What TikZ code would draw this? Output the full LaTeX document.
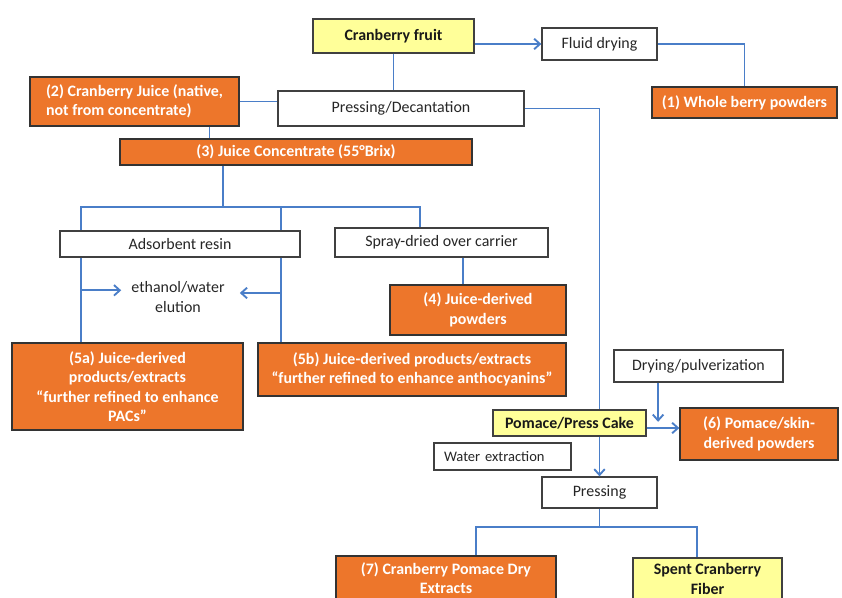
\documentclass[tikz,border=0pt]{standalone}
\usepackage{fontspec}
\setmainfont{Carlito}
\usepackage{tikz}
\usetikzlibrary{arrows.meta, calc}
\definecolor{flowblue}{RGB}{74,126,200}
\definecolor{cranorange}{RGB}{237,118,43}
\definecolor{cranyellow}{RGB}{255,255,153}
\begin{document}
\begin{tikzpicture}[x=0.03cm, y=-0.03cm]
\tikzstyle{plain} = [rectangle, draw=black!75, line width=1.1pt, fill=white, inner sep=0pt, text=black!85, align=center, font=\fontsize{13.6}{16.5}\selectfont]
\tikzstyle{product} = [plain, draw=black!80, fill=cranorange, text=white, font=\fontsize{13.6}{16.5}\selectfont\bfseries]
\tikzstyle{source} = [plain, fill=cranyellow, text=black!90, font=\fontsize{13.6}{16.5}\selectfont\bfseries]
\tikzstyle{line} = [flowblue, line width=1.6pt]
\tikzstyle{arrow} = [line, -{Straight Barb[length=5pt, width=9pt]}]

\useasboundingbox (0,0) rectangle (842,598);
\clip (0,0) rectangle (842,598);

\node (fruit) [source, minimum width=4.83cm, minimum height=1.02cm] at (393.5,36) {Cranberry fruit};
\node (fluid) [plain, minimum width=3.45cm, minimum height=0.96cm] at (599.5,44) {Fluid drying};
\node (whole) [product, minimum width=5.55cm, minimum height=0.93cm] at (744.5,102.5) {(1) Whole berry powders};
\node (juice) [product, align=left, minimum width=6.27cm, minimum height=1.47cm] at (134.5,101.5) {(2) Cranberry Juice (native,\\not from concentrate)};
\node (press) [plain, minimum width=7.38cm, minimum height=1.05cm] at (401,108.5) {Pressing/Decantation};
\node (conc) [product, minimum width=10.56cm, minimum height=0.78cm] at (296,152) {(3) Juice Concentrate (55°Brix)};
\node (resin) [plain, minimum width=7.2cm, minimum height=0.78cm] at (180,244) {Adsorbent resin};
\node (spray) [plain, minimum width=6.39cm, minimum height=0.87cm] at (441.5,242.5) {Spray-dried over carrier};
\node (jpowder) [product, minimum width=5.28cm, minimum height=1.5cm] at (478,310) {(4) Juice-derived\\powders};
\node (elution) [align=center, inner sep=0pt, text=black!85, font=\fontsize{13.6}{16.5}\selectfont] at (178,297) {ethanol/water\\elution};
\node (pacs) [product, minimum width=6.93cm, minimum height=2.61cm] at (127.5,386.5) {(5a) Juice-derived\\products/extracts\\“further refined to enhance\\PACs”};
\node (antho) [product, minimum width=9.24cm, minimum height=1.59cm] at (412,369.5) {(5b) Juice-derived products/extracts\\“further refined to enhance anthocyanins”};
\node (drypul) [plain, minimum width=5.07cm, minimum height=0.96cm] at (698.5,366) {Drying/pulverization};
\node (pomace) [source, minimum width=4.59cm, minimum height=0.78cm] at (569.5,423) {Pomace/Press Cake};
\node (skin) [product, minimum width=4.74cm, minimum height=1.56cm] at (759,434) {(6) Pomace/skin-\\derived powders};
\node (water) [plain, align=left, text width=3.51cm, inner xsep=0.3cm, minimum height=0.81cm, font=\fontsize{12.4}{15}\selectfont] at (502.5,456.5) {Water extraction};
\node (pressing) [plain, minimum width=3.45cm, minimum height=0.93cm] at (599.5,492.5) {Pressing};
\node (dryext) [product, minimum width=6.6cm, minimum height=1.32cm] at (446,578) {(7) Cranberry Pomace Dry\\Extracts};
\node (fiber) [source, minimum width=4.47cm, minimum height=1.26cm] at (707.5,579) {Spent Cranberry\\Fiber};

\coordinate (fork) at (223,207);
\coordinate (tapL) at ([xshift=0.66cm]resin.north west);
\coordinate (tapR) at ([xshift=-0.6cm]resin.north east);
\coordinate (drop) at ($(pomace.east)!0.35!(skin.west)$);
\coordinate (fork2) at ($(pressing.south)+(0,18)$);

\draw [arrow] (fruit.east |- fluid.west) -- (fluid.west);
\draw [line] (fluid.east) -| (whole.north);
\draw [line] (fruit.south) -- (fruit.south |- press.north);
\draw [line] (press.west |- juice.east) -- (juice.east);
\draw [line] (press.east) -| (pressing.north |- pomace.north);
\draw [line] ([xshift=2.25cm]juice.south) -- ([xshift=2.25cm]juice.south |- conc.north);
\draw [line] (conc.south -| fork) -- (fork);
\draw [line] (tapL) |- (fork) -| ([xshift=-0.645cm]spray.north);
\draw [line] (tapR) -- (tapR |- fork);
\draw [line] (tapL |- resin.south) -- (tapL |- pacs.north);
\draw [line] (tapR |- resin.south) -- (tapR |- antho.north);
\draw [arrow] ([yshift=0.2cm]elution.west -| tapL) -- ([xshift=-0.3cm, yshift=0.2cm]elution.west);
\draw [arrow] ([yshift=0.12cm]elution.east -| tapR) -- ([xshift=0.45cm, yshift=0.12cm]elution.east);
\draw [line] ([xshift=0.645cm]spray.south) -- ([xshift=0.645cm]spray.south |- jpowder.north);
\draw [arrow] (drypul.south -| drop) -- ([yshift=0.15cm]drop);
\draw [arrow] ([yshift=-0.15cm]pomace.east) -- ([yshift=-0.15cm]pomace.east -| skin.west);
\draw [arrow] (pressing.north |- pomace.south) -- (pressing.north);
\draw [line] (pressing.south) -- (fork2);
\draw [line] ([xshift=0.9cm]dryext.north) |- (fork2) -| ([xshift=-0.315cm]fiber.north);
\end{tikzpicture}
\end{document}
